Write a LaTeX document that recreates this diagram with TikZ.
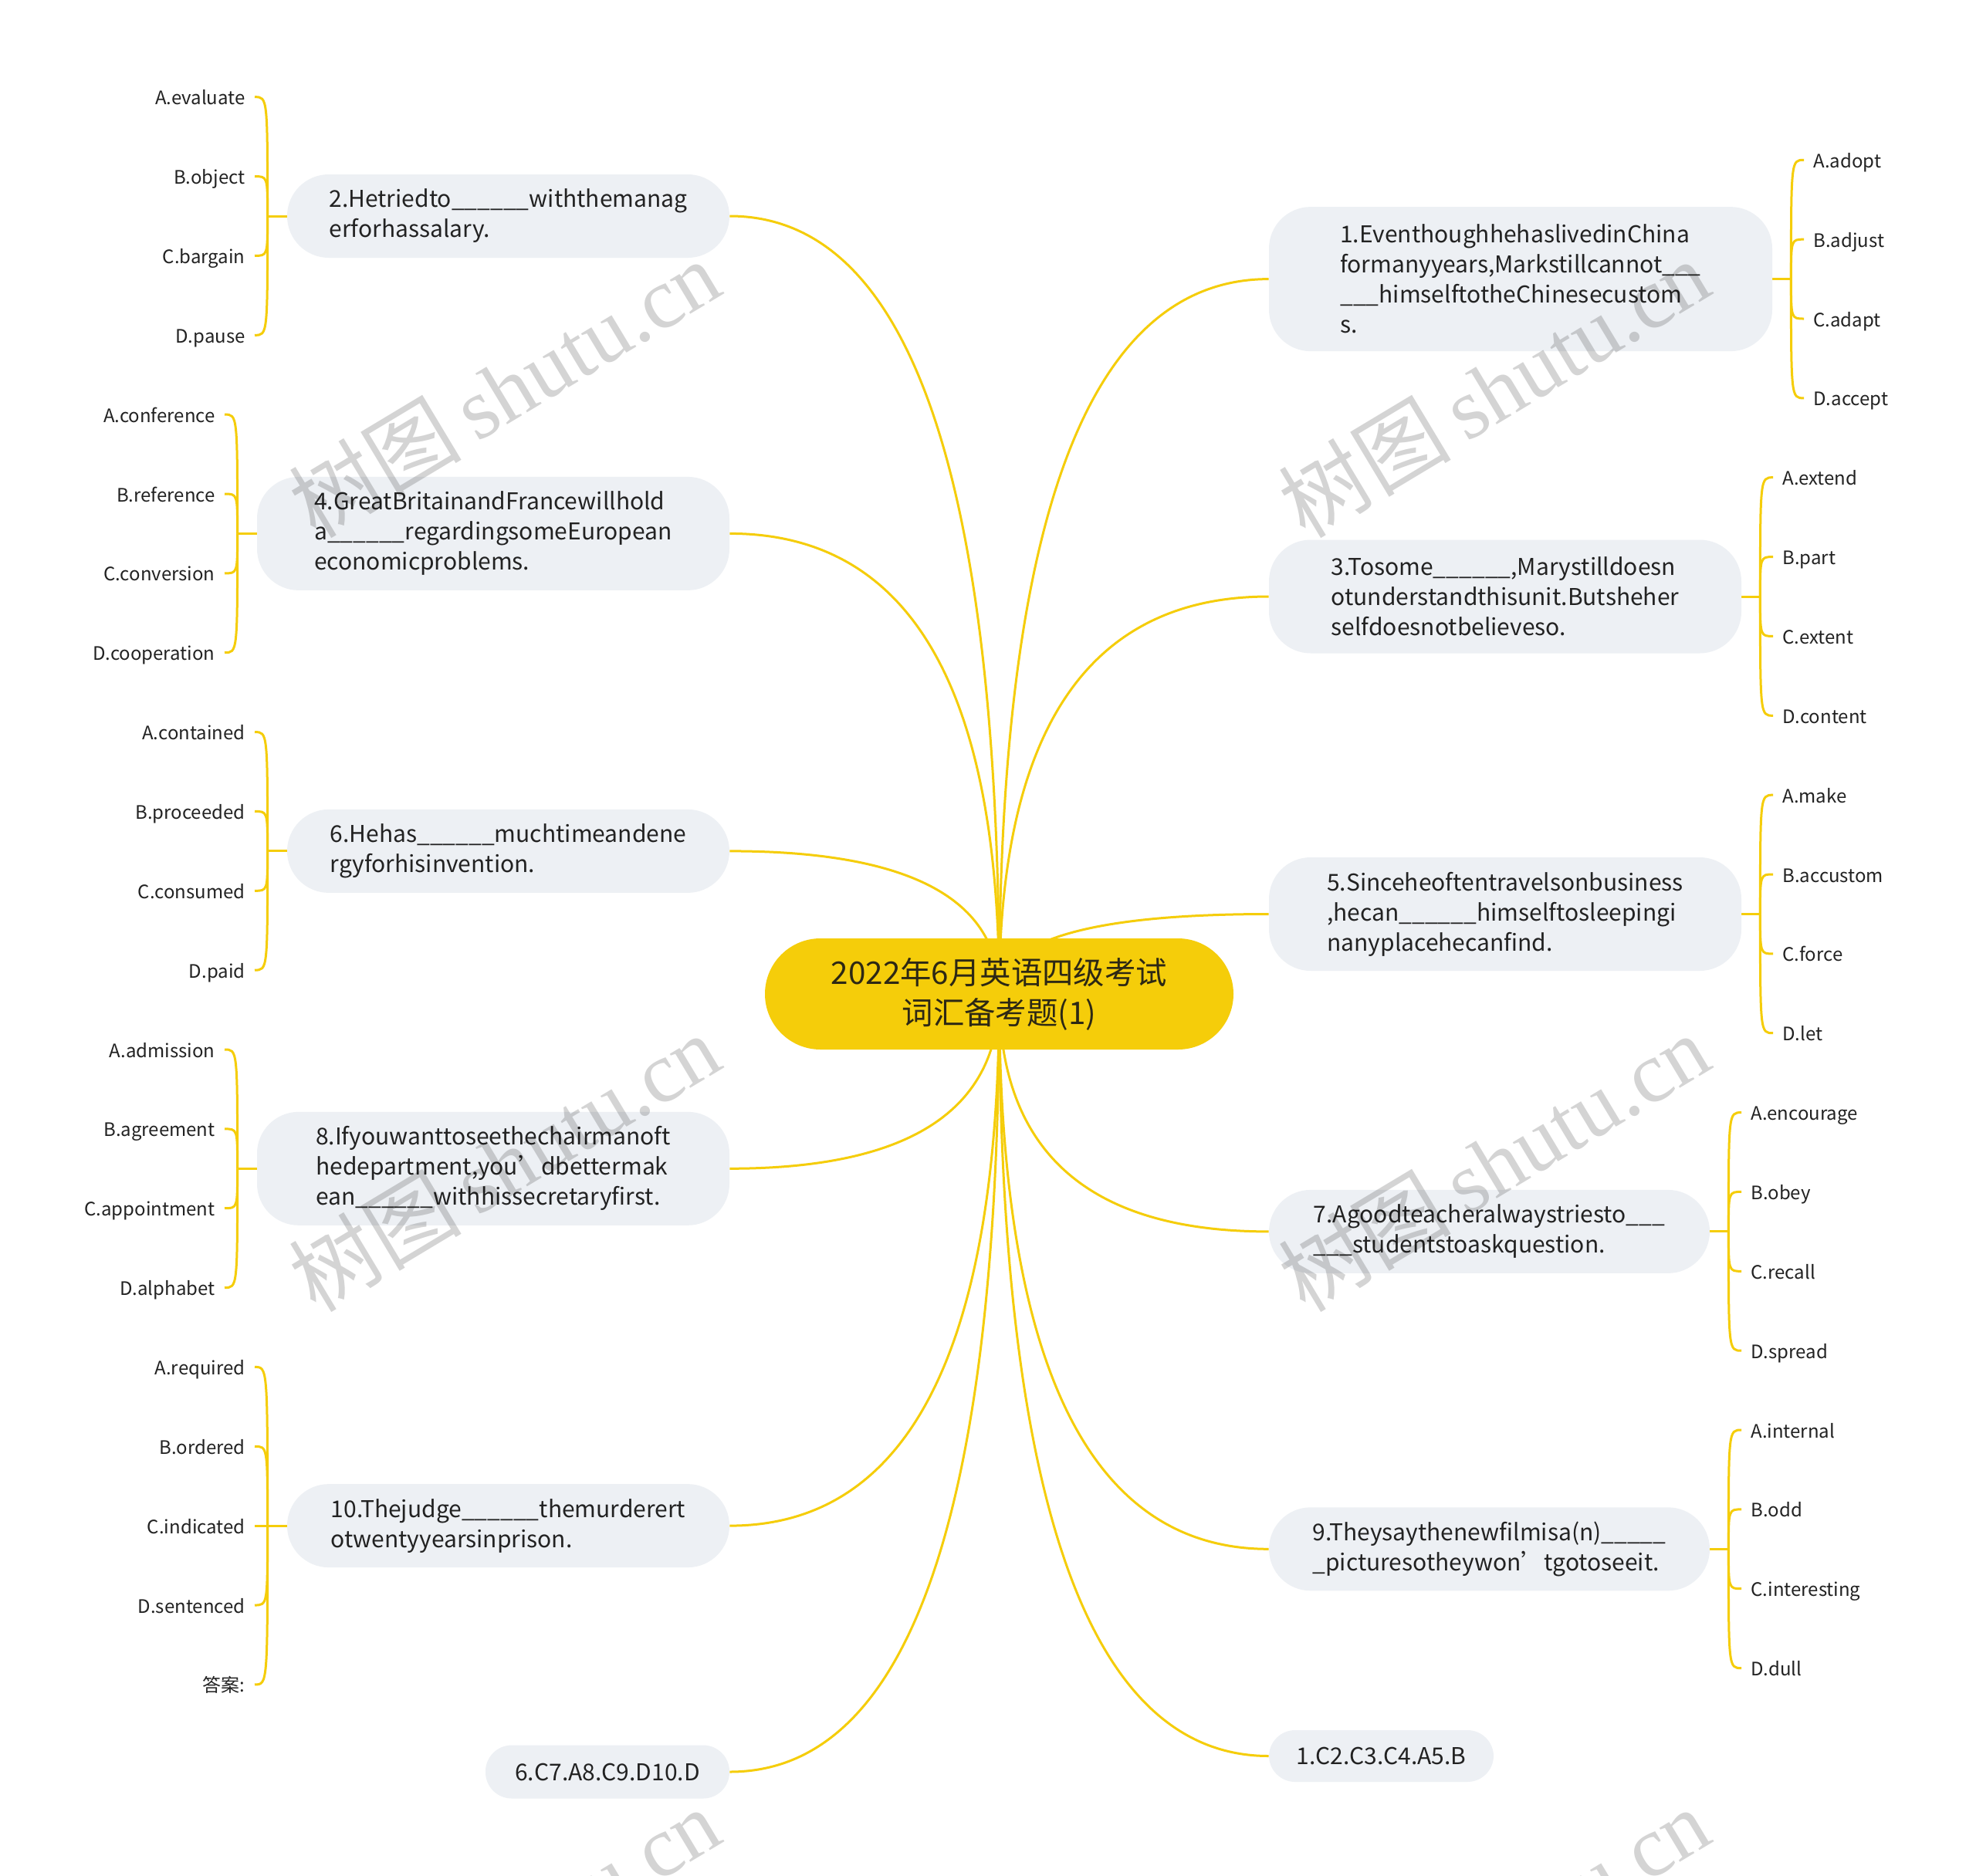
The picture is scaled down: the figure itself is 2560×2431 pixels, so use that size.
\documentclass[tikz,border=0pt]{standalone}
\usepackage{fontspec}
\setmainfont{Noto Sans CJK SC}
\newfontfamily\wmserif{Liberation Serif}
\usetikzlibrary{calc,backgrounds}
\definecolor{brand}{RGB}{245,205,10}
\definecolor{pill}{RGB}{237,240,244}
\definecolor{ink}{RGB}{34,34,34}
\definecolor{rootink}{RGB}{45,40,20}
\tikzset{
 conn/.style={draw=brand, line width=1.5pt},
 qnode/.style={fill=pill, rounded corners=27pt, inner sep=0pt, align=left, text=ink, font=\fontsize{15}{19.5}\selectfont},
 anode/.style={fill=pill, rounded corners=17pt, inner sep=0pt, align=left, text=ink, font=\fontsize{15}{19.5}\selectfont},
 leafL/.style={anchor=east, inner xsep=6pt, inner ysep=0pt, text height=11pt, text depth=1pt, text=ink, font=\fontsize{12}{15}\selectfont},
 leafR/.style={anchor=west, inner xsep=6pt, inner ysep=0pt, text height=11pt, text depth=1pt, text=ink, font=\fontsize{12}{15}\selectfont},
 rootnode/.style={fill=brand, rounded corners=36pt, inner sep=0pt, align=center, text=rootink, font=\fontsize{20.2}{26}\selectfont, minimum width=303.5pt, minimum height=72pt},
 wmark/.style={rotate=31, text=black, opacity=0.17, inner sep=0pt}
}
\begin{document}
\begin{tikzpicture}[x=0.5pt,y=-0.5pt]
\useasboundingbox (0,0) rectangle (2560,2431);
\clip (0,0) rectangle (2560,2431);

% root
\node[rootnode] (root) at (1294.5,1288) {2022年6月英语四级考试\\词汇备考题(1)};

% left question nodes
\node[qnode, minimum width=286.5pt, minimum height=54pt] (q2) at (658.5,280.0) {2.Hetriedto\_\_\_\_\_\_withthemanag\\erforhassalary.};
\node[qnode, minimum width=306pt, minimum height=73.5pt] (q4) at (639,691.4) {4.GreatBritainandFrancewillhold\\a\_\_\_\_\_\_regardingsomeEuropean\\economicproblems.};
\node[qnode, minimum width=286.5pt, minimum height=54pt] (q6) at (658.5,1102.9) {6.Hehas\_\_\_\_\_\_muchtimeandene\\rgyforhisinvention.};
\node[qnode, minimum width=306pt, minimum height=73.5pt] (q8) at (639,1514.3) {8.Ifyouwanttoseethechairmanoft\\hedepartment,you’dbettermak\\ean\_\_\_\_\_\_withhissecretaryfirst.};
\node[qnode, minimum width=286.5pt, minimum height=54pt] (q10) at (658.5,1977.1) {10.Thejudge\_\_\_\_\_\_themurderert\\otwentyyearsinprison.};
\node[anode, minimum width=158pt, minimum height=34.5pt] (a2) at (787,2296) {6.C7.A8.C9.D10.D};

% right question nodes
\node[qnode, minimum width=326pt, minimum height=93.5pt] (q1) at (1970,361.6) {1.EventhoughhehaslivedinChina\\formanyyears,Markstillcannot\_\_\_\\\_\_\_himselftotheChinesecustom\\s.};
\node[qnode, minimum width=306pt, minimum height=73.5pt] (q3) at (1950,773.0) {3.Tosome\_\_\_\_\_\_,Marystilldoesn\\otunderstandthisunit.Butsheher\\selfdoesnotbelieveso.};
\node[qnode, minimum width=306pt, minimum height=73.5pt] (q5) at (1950,1184.5) {5.Sinceheoftentravelsonbusiness\\,hecan\_\_\_\_\_\_himselftosleepingi\\nanyplacehecanfind.};
\node[qnode, minimum width=285.5pt, minimum height=54pt] (q7) at (1929.5,1595.9) {7.Agoodteacheralwaystriesto\_\_\_\\\_\_\_studentstoaskquestion.};
\node[qnode, minimum width=285.5pt, minimum height=54pt] (q9) at (1929.5,2007.3) {9.Theysaythenewfilmisa(n)\_\_\_\_\_\\\_picturesotheywon’tgotoseeit.};
\node[anode, minimum width=145.5pt, minimum height=33.5pt] (a1) at (1789.5,2275.5) {1.C2.C3.C4.A5.B};

% left leaves
\node[leafL] (L0) at (330,125.7) {A.evaluate};
\node[leafL] (L1) at (330,228.6) {B.object};
\node[leafL] (L2) at (330,331.4) {C.bargain};
\node[leafL] (L3) at (330,434.3) {D.pause};
\node[leafL] (L4) at (291,537.1) {A.conference};
\node[leafL] (L5) at (291,640.0) {B.reference};
\node[leafL] (L6) at (291,742.9) {C.conversion};
\node[leafL] (L7) at (291,845.7) {D.cooperation};
\node[leafL] (L8) at (330,948.6) {A.contained};
\node[leafL] (L9) at (330,1051.4) {B.proceeded};
\node[leafL] (L10) at (330,1154.3) {C.consumed};
\node[leafL] (L11) at (330,1257.1) {D.paid};
\node[leafL] (L12) at (291,1360.0) {A.admission};
\node[leafL] (L13) at (291,1462.9) {B.agreement};
\node[leafL] (L14) at (291,1565.7) {C.appointment};
\node[leafL] (L15) at (291,1668.6) {D.alphabet};
\node[leafL] (L16) at (330,1771.4) {A.required};
\node[leafL] (L17) at (330,1874.3) {B.ordered};
\node[leafL] (L18) at (330,1977.1) {C.indicated};
\node[leafL] (L19) at (330,2080.0) {D.sentenced};
\node[leafL] (L20) at (330,2182.9) {答案:};

% right leaves
\node[leafR] (R0) at (2337,207.3) {A.adopt};
\node[leafR] (R1) at (2337,310.2) {B.adjust};
\node[leafR] (R2) at (2337,413.0) {C.adapt};
\node[leafR] (R3) at (2337,515.9) {D.accept};
\node[leafR] (R4) at (2297,618.7) {A.extend};
\node[leafR] (R5) at (2297,721.6) {B.part};
\node[leafR] (R6) at (2297,824.4) {C.extent};
\node[leafR] (R7) at (2297,927.3) {D.content};
\node[leafR] (R8) at (2297,1030.2) {A.make};
\node[leafR] (R9) at (2297,1133.0) {B.accustom};
\node[leafR] (R10) at (2297,1235.9) {C.force};
\node[leafR] (R11) at (2297,1338.7) {D.let};
\node[leafR] (R12) at (2256,1441.6) {A.encourage};
\node[leafR] (R13) at (2256,1544.4) {B.obey};
\node[leafR] (R14) at (2256,1647.3) {C.recall};
\node[leafR] (R15) at (2256,1750.2) {D.spread};
\node[leafR] (R16) at (2256,1853.0) {A.internal};
\node[leafR] (R17) at (2256,1955.9) {B.odd};
\node[leafR] (R18) at (2256,2058.7) {C.interesting};
\node[leafR] (R19) at (2256,2161.6) {D.dull};

\begin{pgfonlayer}{background}
\fill[white] (0,0) rectangle (2560,2431);
% main connectors (quadratic curves from root centre)
\foreach \q/\a in {q2/east,q4/east,q6/east,q8/east,q10/east,a2/east,q1/west,q3/west,q5/west,q7/west,q9/west,a1/west}{
  \coordinate (k) at (root.center |- \q.\a);
  \draw[conn] (root.center) .. controls ($(root.center)!0.6667!(k)$) and ($(\q.\a)!0.6667!(k)$) .. (\q.\a);
}
% leaf brackets, left
\foreach \q/\ls in {q2/{L0,L1,L2,L3},q4/{L4,L5,L6,L7},q6/{L8,L9,L10,L11},q8/{L12,L13,L14,L15},q10/{L16,L17,L18,L19,L20}}{
  \coordinate (j) at ([xshift=-12.5pt]\q.west);
  \draw[conn] (\q.west) -- (j);
  \foreach \l in \ls { \draw[conn] (j) .. controls (j |- \l.east) .. (\l.east); }
}
% leaf brackets, right
\foreach \q/\ls in {q1/{R0,R1,R2,R3},q3/{R4,R5,R6,R7},q5/{R8,R9,R10,R11},q7/{R12,R13,R14,R15},q9/{R16,R17,R18,R19}}{
  \coordinate (j) at ([xshift=12pt]\q.east);
  \draw[conn] (\q.east) -- (j);
  \foreach \l in \ls { \draw[conn] (j) .. controls (j |- \l.west) .. (\l.west); }
}
\end{pgfonlayer}

% watermarks
\foreach \wx/\wy [count=\i] in {653/503,1935/503,653/1506,1935/1506,653/2509,1935/2509}{
  \node[wmark] (wm\i) at (\wx,\wy) {\fontsize{56}{60}\selectfont 树图\hspace{10pt}{\wmserif shutu.cn}};
}
\end{tikzpicture}
\end{document}
